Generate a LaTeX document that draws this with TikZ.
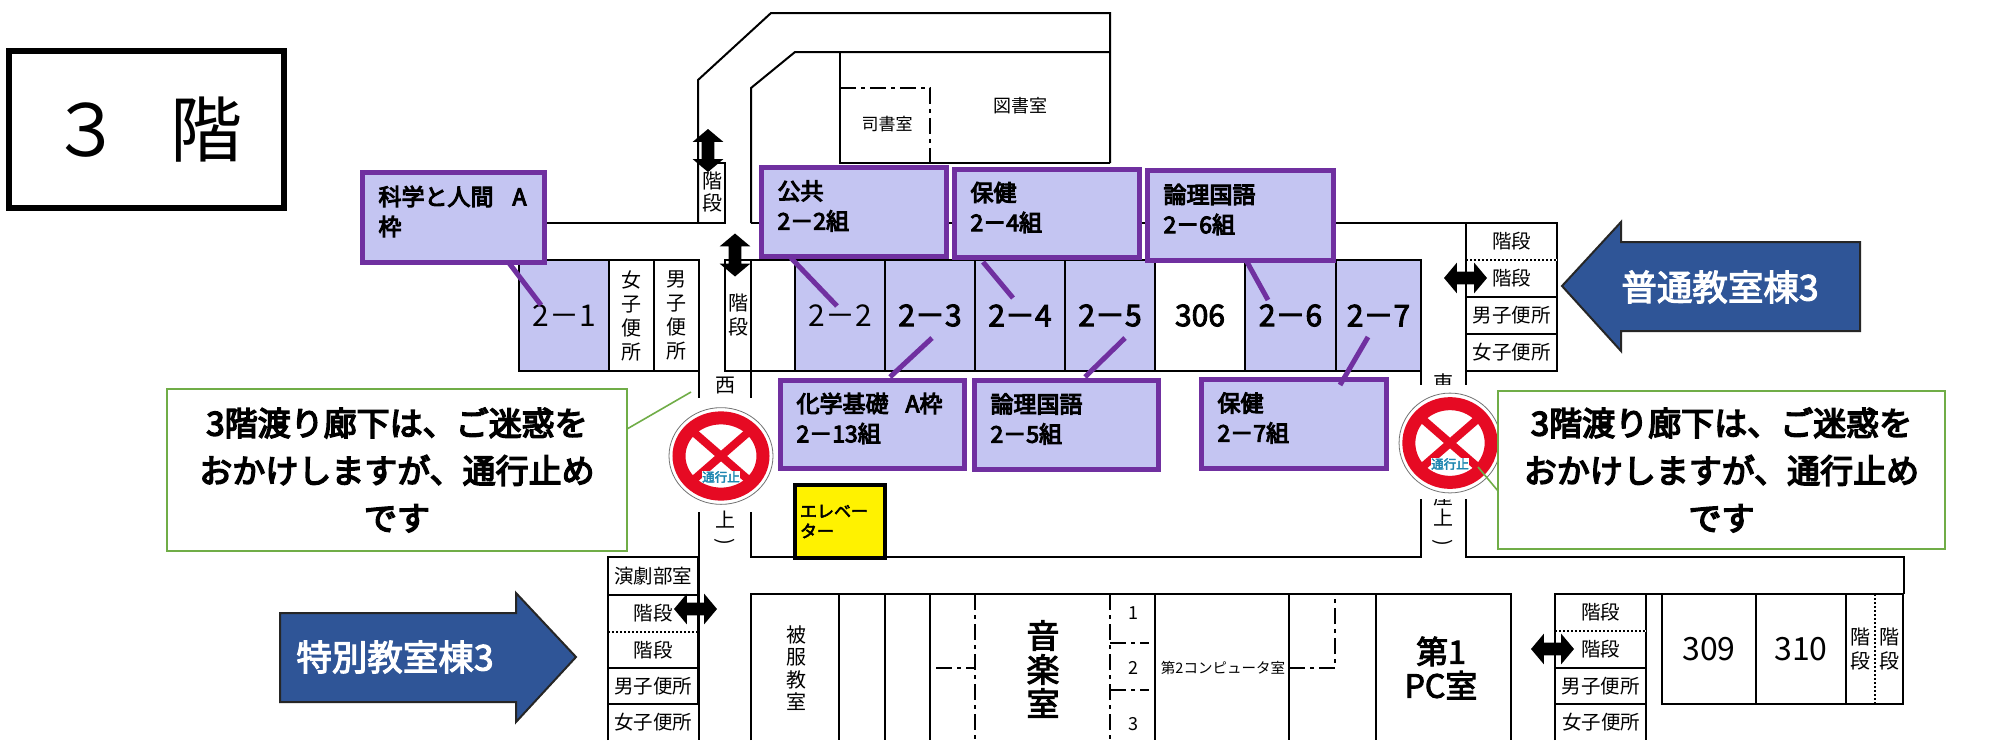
\documentclass[tikz,border=0pt]{standalone}
\usepackage{fontspec}
\setmainfont{Noto Sans CJK JP}
\newfontfamily\mw{Noto Sans CJK JP}[FakeBold=3]
\newfontfamily\hw{Noto Sans CJK JP}[FakeBold=4.5]
\usetikzlibrary{shapes.arrows,calc}
\definecolor{pur}{HTML}{7030A0}
\definecolor{lav}{HTML}{C4C5F2}
\definecolor{navy}{HTML}{2F5597}
\definecolor{grn}{HTML}{70AD47}
\definecolor{sred}{HTML}{E60A23}
\definecolor{sblue}{HTML}{1E86B0}
\newcommand\px[1]{\fontsize{\fpeval{#1/2}}{\fpeval{#1*0.6}}\selectfont}
\newcommand\pxl[2]{\fontsize{\fpeval{#1/2}}{\fpeval{#2/2}}\selectfont}
\tikzset{
  wall/.style={draw=black,line width=1pt},
  dashwall/.style={draw=black,line width=1pt,dash pattern=on 8pt off 2.5pt on 2pt off 2.5pt},
  dotwall/.style={draw=black,line width=1pt,dash pattern=on 1pt off 1pt},
  roomnode/.style={draw=black,line width=1pt,inner sep=0pt,outer sep=0pt,align=center},
  lavroom/.style={roomnode,fill=lav},
  vert20/.style={inner sep=0pt,font=\pxl{20}{21.5},align=center},
  purplebox/.style={draw=pur,fill=lav,line width=2.5pt,inner sep=0pt,outer sep=0pt},
  boxtext/.style={inner sep=0pt,outer sep=0pt,align=left,yshift=3pt,font=\hw\pxl{23}{30}},
  link/.style={draw=pur,line width=2.5pt},
  callout/.style={draw=grn,fill=white,line width=1pt,inner sep=0pt,outer sep=0pt,align=center,font=\hw\pxl{33}{47.5}},
  calloutline/.style={draw=grn,line width=0.8pt},
  dblarrow/.style={shape=double arrow,fill=black,inner xsep=0pt,inner ysep=3pt,outer sep=0pt,minimum width=15pt,minimum height=21.5pt,double arrow head extend=4.5pt,double arrow head indent=0pt,double arrow tip angle=100},
  bluearrow/.style={fill=navy,draw=black!85,line width=1pt},
  bluetext/.style={text=white,inner sep=0pt,font=\mw\px{35.5}},
}
\newcommand\room[7]{%
  \node[#6,minimum width={(#4-#2)/2},minimum height={(#5-#3)/2}] (#1) at ({(#2+#4)/2},{(#3+#5)/2}) {#7};}
\newcommand\pbox[6]{%
  \pgfmathsetmacro\tw{(#4-#2-5)/2-16}%
  \node[purplebox,minimum width={(#4-#2-5)/2},minimum height={(#5-#3-5)/2}] (#1) at ({(#2+#4)/2},{(#3+#5)/2}) {};
  \node[boxtext,text width=\tw pt] (#1t) at (#1.center) {#6};}
\newcommand\sign[5]{% name x y rx ry
  \fill[white] (#2-53,#3-58) rectangle (#2+48,#3+56);
  \draw[black!55,line width=0.4pt] (#2,#3) ellipse [x radius=#4*0.26,y radius=#5*0.26];
  \draw[sred,line width=6.5pt] (#2,#3) ellipse [x radius=#4*0.21,y radius=#5*0.205];
  \draw[sred,line width=4pt] (#2-31,#3-27) -- (#2+31,#3+27) (#2+31,#3-27) -- (#2-31,#3+27);
  \node[inner sep=0pt,fill=white,text=sblue,font=\mw\px{12.5}] (#1) at (#2,#3+21) {通行止};}
\begin{document}
\begin{tikzpicture}[x=0.5pt,y=-0.5pt]
\useasboundingbox (0,0) rectangle (2012,740);
\fill[white] (0,0) rectangle (2012,740);
% title
\node[draw=black,line width=3pt,inner sep=0pt,minimum width=137.5pt,minimum height=78.5pt,font=\px{72}] (title) at (146.5,129.5) {３\hspace{24pt}階\hspace{3pt}};
% upper building
\draw[wall] (698,223)--(698,80)--(771,13)--(1110,13)--(1110,163);
\draw[wall] (546,223)--(725,223)--(725,163)--(698,163);
\draw[wall] (751,223)--(751,88)--(795,52)--(1110,52);
\draw[wall] (840,52)--(840,163)--(1110,163);
\draw[dashwall] (840,88)--(930,88)--(930,163);
\draw[wall] (751,223)--(1466,223);
\node[inner sep=0pt,font=\px{17}] (shisho) at (887,124) {司書室};
\node[inner sep=0pt,font=\px{18}] (tosho) at (1020,106) {図書室};
\node[vert20] (ups1) at (712,192) {階\\段};
% corridors
\draw[wall] (699,371)--(699,740);
\draw[wall] (751,371)--(751,557)--(1421,557)--(1421,371);
\draw[wall] (1466,371)--(1466,557)--(1904,557)--(1904,594);
% row of rooms
\room{r21}{519}{260}{609}{371}{lavroom}{\px{30}2－1}
\room{wc1}{609}{260}{654}{371}{roomnode}{\pxl{20}{22}女\\子\\便\\所}
\room{wc2}{654}{260}{699}{371}{roomnode}{\pxl{20}{22}男\\子\\便\\所}
\room{st2}{725}{260}{751}{371}{roomnode}{\pxl{20}{21.5}階\\段}
\room{blank}{751}{260}{795}{371}{roomnode}{}
\room{r22}{795}{260}{885}{371}{lavroom}{\px{30}2－2}
\room{r23}{885}{260}{975}{371}{lavroom}{\mw\px{30}2－3}
\room{r24}{975}{260}{1065}{371}{lavroom}{\mw\px{30}2－4}
\room{r25}{1065}{260}{1155}{371}{lavroom}{\mw\px{30}2－5}
\room{r306}{1155}{260}{1245}{371}{roomnode}{\mw\px{30}306}
\room{r26}{1245}{260}{1336}{371}{lavroom}{\mw\px{30}2－6}
\room{r27}{1336}{260}{1421}{371}{lavroom}{\mw\px{30}2－7}
% upper right stairs
\room{ers1}{1466}{223}{1557}{260}{roomnode}{\px{19.5}階段}
\room{ers2}{1466}{260}{1557}{297}{roomnode}{\px{19.5}階段}
\draw[white,line width=1.2pt] (1466,260)--(1557,260);
\draw[dotwall] (1466,260)--(1557,260);
\room{ewm}{1466}{297}{1557}{334}{roomnode}{\px{19.5}男子便所}
\room{ewf}{1466}{334}{1557}{371}{roomnode}{\px{19.5}女子便所}
% corridor labels (partly hidden by the signs)
\node[inner sep=0pt,font=\px{20}] (west) at (725,386) {西};
\node[inner sep=0pt,font=\px{20}] (east) at (1443,383) {東};
\node[inner sep=0pt,font=\px{20}] (eastroof) at (1443,497) {屋};
\sign{signw}{721}{456}{200}{186}
\sign{signe}{1450}{443}{196}{192}
\node[inner sep=0pt,font=\px{20}] (wup) at (725,520) {上};
\node[inner sep=0pt,font=\px{20},rotate=-90] (wpar) at (725,542) {)};
\node[inner sep=0pt,font=\px{20}] (eup) at (1443,518) {上};
\node[inner sep=0pt,font=\px{20},rotate=-90] (epar) at (1443,543) {)};
% lower building
\room{lb0}{608}{557}{698}{595}{roomnode}{\px{19.5}演劇部室}
\room{lb1}{608}{595}{698}{632}{roomnode}{\px{19.5}階段}
\room{lb2}{608}{632}{698}{668}{roomnode}{\px{19.5}階段}
\draw[white,line width=1.2pt] (608,632)--(698,632);
\draw[dotwall] (608,632)--(698,632);
\room{lb3}{608}{668}{698}{704}{roomnode}{\px{19.5}男子便所}
\draw[wall] (608,740)--(608,704)--(698,704);
\node[inner sep=0pt,font=\px{19.5}] (lb4) at (653,722) {女子便所};
\draw[wall] (751,740)--(751,594)--(1511,594)--(1511,740);
\draw[wall] (839,594)--(839,740) (885,594)--(885,740) (930,594)--(930,740);
\draw[wall] (1155,594)--(1155,740) (1289,594)--(1289,740) (1376,594)--(1376,740);
\draw[dashwall] (975,594)--(975,740) (1110,594)--(1110,740);
\draw[dashwall] (936,668)--(975,668) (1110,643)--(1149,643) (1110,690)--(1149,690);
\draw[dashwall] (1289,668)--(1335,668)--(1335,594);
\node[vert20,font=\pxl{20}{22.5}] (hifuku) at (796,668) {被\\服\\教\\室};
\node[inner sep=0pt,align=center,font=\mw\pxl{33}{34}] (music) at (1043,669) {音\\楽\\室};
\node[inner sep=0pt,font=\px{18}] (n1) at (1133,613) {1};
\node[inner sep=0pt,font=\px{18}] (n2) at (1133,668) {2};
\node[inner sep=0pt,font=\px{18}] (n3) at (1133,724) {3};
\node[inner sep=0pt,font=\px{14.5}] (pc2) at (1223,668) {第2コンピュータ室};
\node[inner sep=0pt,align=center,font=\mw\pxl{32}{34}] (pc1) at (1441,668) {第1\\PC室};
\draw[wall] (1555,594)--(1903,594);
\room{rs1}{1555}{594}{1646}{631}{roomnode}{\px{19.5}階段}
\room{rs2}{1555}{631}{1646}{668}{roomnode}{\px{19.5}階段}
\draw[white,line width=1.2pt] (1555,631)--(1646,631);
\draw[dotwall] (1555,631)--(1646,631);
\room{rs3}{1555}{668}{1646}{704}{roomnode}{\px{19.5}男子便所}
\draw[wall] (1555,740)--(1555,704)--(1646,704)--(1646,668);
\node[inner sep=0pt,font=\px{19.5}] (rs4) at (1601,722) {女子便所};
\draw[wall] (1646,704)--(1646,740);
\room{r309}{1662}{594}{1756}{704}{roomnode}{\px{32}309}
\room{r310}{1756}{594}{1846}{704}{roomnode}{\px{32}310}
\room{s1}{1846}{594}{1875}{704}{roomnode}{\pxl{20}{22}階\\段}
\room{s2}{1875}{594}{1903}{704}{roomnode}{\pxl{20}{22}階\\段}
\draw[white,line width=1.2pt] (1875,594)--(1875,704);
\draw[dotwall] (1875,594)--(1875,704);
% black double arrows
\node[dblarrow,rotate=90] (da1) at (708,150.5) {};
\node[dblarrow,rotate=90] (da2) at (735,255) {};
\node[dblarrow] (da3) at (1465.5,278) {};
\node[dblarrow] (da4) at (695.5,609) {};
\node[dblarrow] (da5) at (1552.5,649) {};
% blue arrows
\draw[bluearrow] (1562,286)--(1621,222)--(1621,242)--(1860,242)--(1860,331)--(1621,331)--(1621,351)--cycle;
\node[bluetext] (futsu) at (1720,287) {普通教室棟3};
\draw[bluearrow] (280,613)--(516,613)--(516,593)--(576,657)--(516,722)--(516,702)--(280,702)--cycle;
\node[bluetext] (tokubetsu) at (395,657) {特別教室棟3};
% purple boxes
\coordinate (c1a) at (509,263); \coordinate (c1b) at (541,305);
\coordinate (c2a) at (791,258); \coordinate (c2b) at (837,306);
\coordinate (c3a) at (890,377); \coordinate (c3b) at (932,338);
\coordinate (c4a) at (983,262); \coordinate (c4b) at (1013,298);
\coordinate (c5a) at (1085,377); \coordinate (c5b) at (1125,338);
\coordinate (c6a) at (1247,262); \coordinate (c6b) at (1268,300);
\coordinate (c7a) at (1340,385); \coordinate (c7b) at (1368,337);
\pbox{kagaku}{360}{170}{547}{265}{科学と人間\hspace{9.5pt}A\\枠}
\pbox{kokyo}{759}{165}{949}{259}{公共\\2－2組}
\pbox{hoken4}{952}{167}{1142}{260}{保健\\2－4組}
\pbox{ronri6}{1145}{168}{1336}{263}{論理国語\\2－6組}
\pbox{kagaku13}{778}{378}{967}{471}{化学基礎\hspace{8.5pt}A枠\\2－13組}
\pbox{ronri5}{972}{378}{1161}{472}{論理国語\\2－5組}
\pbox{hoken7}{1199}{377}{1389}{471}{保健\\2－7組}
\draw[link] (c1a)--(c1b);
\draw[link] (c2a)--(c2b);
\draw[link] (c3a)--(c3b);
\draw[link] (c4a)--(c4b);
\draw[link] (c5a)--(c5b);
\draw[link] (c6a)--(c6b);
\draw[link] (c7a)--(c7b);
% elevator
\node[draw=black,fill=yellow,line width=2pt,inner sep=0pt,minimum width=45pt,minimum height=36.5pt,text width=40pt,align=left,font=\mw\pxl{17}{20}] (elev) at (840,521.5) {エレベー\\ター};
% callouts
\node[callout,minimum width=230pt,minimum height=81pt] (cl) at (397,470) {3階渡り廊下は、ご迷惑を\\おかけしますが、通行止め\\です};
\node[callout,minimum width=223.5pt,minimum height=79pt] (cr) at (1721.5,470) {3階渡り廊下は、ご迷惑を\\おかけしますが、通行止め\\です};
\coordinate (clfrom) at (627,429); \coordinate (clto) at (691,392);
\coordinate (crfrom) at (1498,491); \coordinate (crto) at (1478,467);
\draw[calloutline] (clfrom)--(clto);
\draw[calloutline] (crfrom)--(crto);
\end{tikzpicture}
\end{document}
